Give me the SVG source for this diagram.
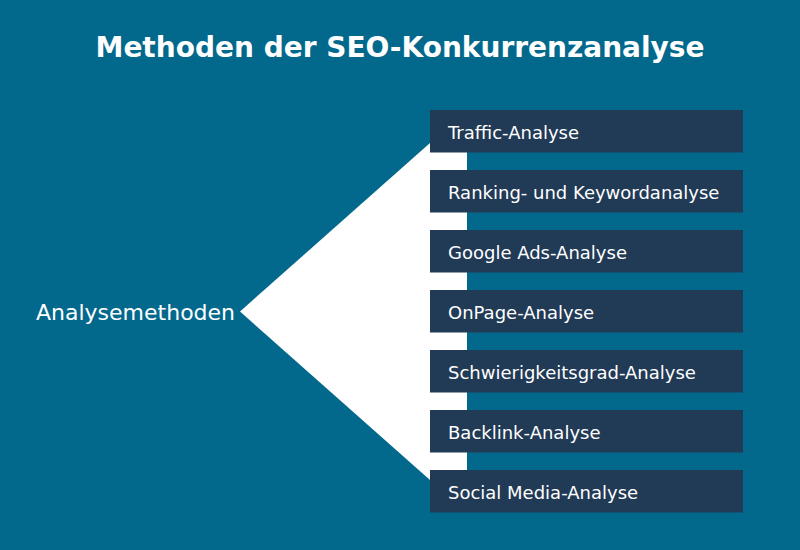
<svg xmlns="http://www.w3.org/2000/svg" width="800" height="550" viewBox="0 0 800 550">
<style>
.box{fill:#213a56}
.lbl{font-family:"DejaVu Sans",sans-serif;font-size:18px;fill:#ffffff}
.title{font-family:"DejaVu Sans",sans-serif;font-size:28px;font-weight:bold;fill:#ffffff}
.src{font-family:"DejaVu Sans",sans-serif;font-size:22px;fill:#ffffff}
</style>
<rect width="800" height="550" fill="#02698d"/>
<text class="title" x="400" y="57" text-anchor="middle">Methoden der SEO-Konkurrenzanalyse</text>
<g id="connectors">
<polygon points="240,311.5 430,143 467,143 467,480 430,480" fill="#ffffff"/>
</g>
<g id="source"><text class="src" x="36" y="320">Analysemethoden</text></g>
<g id="n1"><rect class="box" x="430" y="110" width="313" height="42.5"/><text class="lbl" x="448" y="139">Traffic-Analyse</text></g>
<g id="n2"><rect class="box" x="430" y="170" width="313" height="42.5"/><text class="lbl" x="448" y="199">Ranking- und Keywordanalyse</text></g>
<g id="n3"><rect class="box" x="430" y="230" width="313" height="42.5"/><text class="lbl" x="448" y="259">Google Ads-Analyse</text></g>
<g id="n4"><rect class="box" x="430" y="290" width="313" height="42.5"/><text class="lbl" x="448" y="319">OnPage-Analyse</text></g>
<g id="n5"><rect class="box" x="430" y="350" width="313" height="42.5"/><text class="lbl" x="448" y="379">Schwierigkeitsgrad-Analyse</text></g>
<g id="n6"><rect class="box" x="430" y="410" width="313" height="42.5"/><text class="lbl" x="448" y="439">Backlink-Analyse</text></g>
<g id="n7"><rect class="box" x="430" y="470" width="313" height="42.5"/><text class="lbl" x="448" y="499">Social Media-Analyse</text></g>
</svg>
